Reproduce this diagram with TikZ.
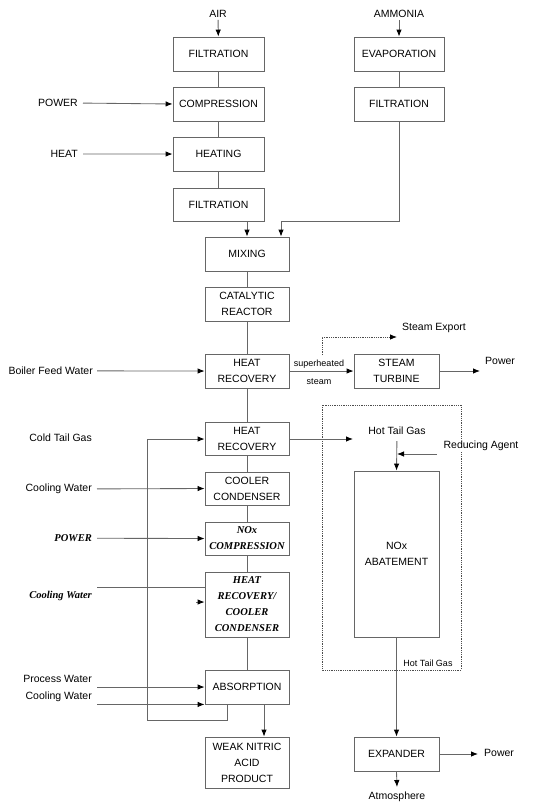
\documentclass[tikz,border=0pt]{standalone}
\usepackage{fontspec}
\setmainfont{Liberation Sans}
\newfontfamily\serifbi{Liberation Serif}
\usetikzlibrary{arrows.meta}
\begin{document}
\begin{tikzpicture}[x=1pt,y=-1pt,
  every node/.style={font=\fontsize{10.5}{16}\selectfont, inner sep=0pt, text=black},
  box/.style={draw=black!60, line width=0.85pt, align=center, minimum height=34pt, minimum width=84pt},
  lbl/.style={anchor=mid east},
  small/.style={font=\fontsize{9}{12}\selectfont},
  bi/.style={font=\fontsize{10.5}{16}\selectfont\serifbi\bfseries\itshape},
  ln/.style={draw=black!60, line width=0.85pt},
  arr/.style={ln, -{Latex[length=7pt,width=5.5pt,color=black]}},
  dotln/.style={draw=black!70, line width=0.8pt, densely dotted}
]
\useasboundingbox (0,0) rectangle (550,809);

% boxes
\node[box, minimum width=91pt] (f1) at (218.5,54) {FILTRATION};
\node[box, minimum width=91pt] (comp) at (218.5,104) {COMPRESSION};
\node[box, minimum width=91pt] (heat) at (218.5,154) {HEATING};
\node[box, minimum width=91pt, minimum height=33pt] (f2) at (218.5,204.5) {FILTRATION};
\node[box, minimum width=90pt] (evap) at (399,54) {EVAPORATION};
\node[box, minimum width=90pt] (f3) at (399,104) {FILTRATION};
\node[box] (mix) at (247,254) {MIXING};
\node[box] (cat) at (247,304) {CATALYTIC\\REACTOR};
\node[box] (hr1) at (247,371) {HEAT\\RECOVERY};
\node[box, minimum width=85pt] (st) at (396.5,371) {STEAM\\TURBINE};
\node[box, minimum height=33pt] (hr2) at (247,438.5) {HEAT\\RECOVERY};
\node[box, minimum height=33pt] (cc) at (247,488.5) {COOLER\\CONDENSER};
\node[box, minimum height=33pt, bi] (nc) at (247,538.5) {NOx\\COMPRESSION};
\node[box, minimum height=65pt, bi] (hrcc) at (247,604.5) {HEAT\\RECOVERY/\\COOLER\\CONDENSER};
\node[box] (abs) at (247,687) {ABSORPTION};
\node[box, minimum height=51pt] (wn) at (247,762.5) {WEAK NITRIC\\ACID\\PRODUCT};
\node[box, minimum width=85pt, minimum height=166pt] (nox) at (396.5,554) {NOx\\ABATEMENT};
\node[box, minimum width=85pt] (exp) at (396.5,754) {EXPANDER};

% dotted enclosure
\draw[dotln] (322,405) rectangle (461,670);

% labels
\node (air) at (218,14) {AIR};
\node (amm) at (399,14) {AMMONIA};
\node[lbl] (pow1) at (78,104) {POWER};
\node[lbl] (heatl) at (78,155) {HEAT};
\node[lbl] (bfw) at (93,372) {Boiler Feed Water};
\node[small] (sh1) at (319,364) {superheated};
\node[small] (sh2) at (319,382) {steam};
\node[anchor=mid west] (sexp) at (402,328) {Steam Export};
\node[anchor=mid west] (pow2) at (485,362) {Power};
\node[lbl] (ctg) at (92,439) {Cold Tail Gas};
\node[lbl] (cw1) at (92,489) {Cooling Water};
\node[lbl, bi] (pow3) at (92,539) {POWER};
\node[lbl, bi] (cw2) at (92,596) {Cooling Water};
\node[lbl] (pw) at (92,680) {Process Water};
\node[lbl] (cw3) at (92,697) {Cooling Water};
\node (htg) at (397,431) {Hot Tail Gas};
\node[fill=white, inner sep=1pt] (ra) at (481,446) {Reducing Agent};
\node[small] (htg2) at (428,663) {Hot Tail Gas};
\node[anchor=mid west] (pow4) at (484,754) {Power};
\node (atm) at (397,797) {Atmosphere};

% coordinates
\coordinate (j1) at (281,221);
\coordinate (se0) at (322,355);
\coordinate (se1) at (397,337);
\coordinate (pw2end) at (480,371);
\coordinate (htgend) at (353,439);
\coordinate (ra0) at (437,454);
\coordinate (ra1) at (397,454);
\coordinate (cw2a) at (97,587);
\coordinate (cw2b) at (196,602);
\coordinate (loopa) at (227,720);
\coordinate (loopb) at (147,720);
\coordinate (loopc) at (147,439);
\coordinate (pw4end) at (478,754);
\coordinate (atmend) at (397,787);

% air train
\draw[arr, shorten <=2pt] (air) -- (f1);
\draw[ln] (f1) -- (comp);
\draw[ln] (comp) -- (heat);
\draw[ln] (heat) -- (f2);
\draw[arr, shorten <=5pt] (pow1.east) -- (comp.west);
\draw[arr, shorten <=5pt] (heatl.east) -- (heat.west);
\draw[arr] (f2.south -| mix) -- (mix.north);

% ammonia train
\draw[arr, shorten <=2pt] (amm) -- (evap);
\draw[ln] (evap) -- (f3);
\draw[arr] (f3.south) |- (j1) -- (j1 |- mix.north);

% main column
\draw[ln] (mix) -- (cat);
\draw[ln] (cat) -- (hr1);
\draw[arr, shorten <=4pt] (bfw.east) -- (hr1.west);
\draw[arr] (hr1.east) -- (st.west);
\draw[dotln, -{Latex[length=7pt,width=5.5pt,color=black]}] (se0) |- (se1);
\draw[arr] (st.east) -- (pw2end);
\draw[ln] (hr1) -- (hr2);
\draw[arr] (hr2.east |- htgend) -- (htgend);
\draw[arr, shorten <=6pt] (htg.south) -- (nox.north);
\draw[arr] (ra0) -- (ra1);
\draw[ln] (hr2) -- (cc);
\draw[ln] (cc) -- (nc);
\draw[ln] (nc) -- (hrcc);
\draw[ln] (hrcc) -- (abs);
\draw[arr, shorten <=5pt] (cw1.east) -- (cc.west);
\draw[arr, shorten <=5pt] (pow3.east) -- (nc.west);
\draw[ln] (cw2a) -- (cw2a -| hrcc.west);
\draw[arr] (cw2b) -- (cw2b -| hrcc.west);
\draw[arr, shorten <=5pt] (pw.east |- abs.west) -- (abs.west);
\draw[arr, shorten <=5pt] (cw3.east |- abs.south west) -- (abs.south west);
\draw[arr] (abs.south -| loopa) -- (loopa) -- (loopb) -- (loopc) -- (hr2.west |- loopc);
\draw[arr] ([xshift=17pt]abs.south) -- ([xshift=17pt]wn.north);
\draw[arr] (nox.south) -- (exp.north);
\draw[arr] (exp.east) -- (pw4end);
\draw[arr] (exp.south) -- (atmend);
\end{tikzpicture}
\end{document}
